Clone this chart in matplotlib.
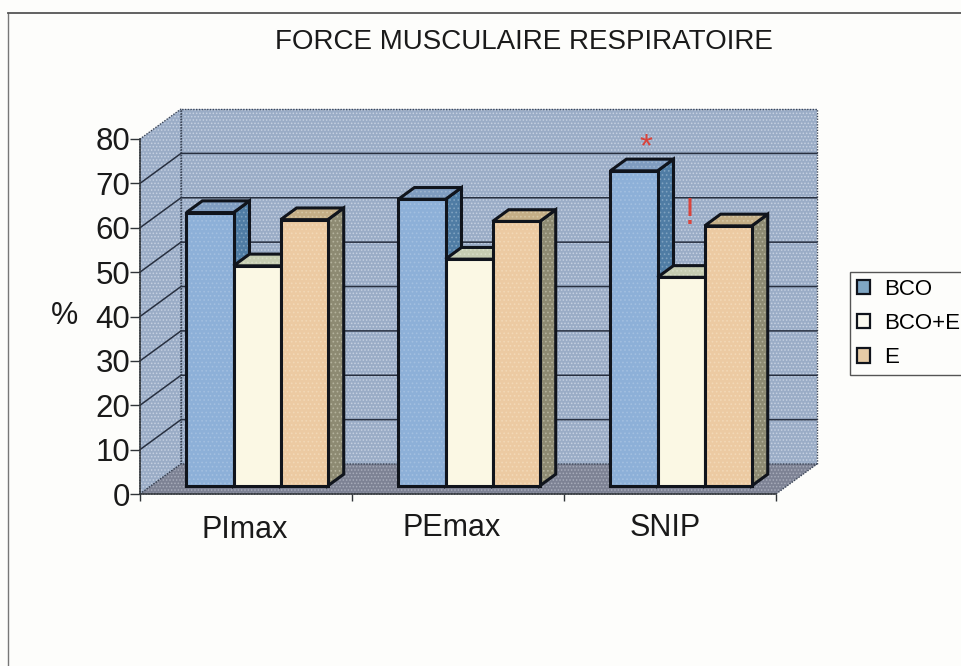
import matplotlib
matplotlib.use('Agg')
import matplotlib.pyplot as plt
from matplotlib.patches import Polygon, Patch

plt.rcParams['font.family'] = ['Liberation Sans', 'DejaVu Sans']
plt.rcParams['hatch.linewidth'] = 0.7

# donnees
categories = ['PImax', 'PEmax', 'SNIP']
series_names = ['BCO', 'BCO+E', 'E']
bco = [61.6, 64.6, 71]
bco_e = [49.6, 51.1, 47]
e = [60, 59.6, 58.6]
yticks = [0, 10, 20, 30, 40, 50, 60, 70, 80]

front_cols = ['#8db0d8', '#fbf8e4', '#eccaa2']
front_dots = ['#a2bfe0', '#fbf8e4', '#f2d8b6']
top_cols = ['#7f9cc0', '#c6cdb2', '#c4ae86']
top_dots = ['#9db4cf', '#d6dcc6', '#d6c6a4']
side_cols = ['#4f7ca4', '#9a9a80', '#8d8a72']
side_dots = ['#7fa2c0', '#b6b6a0', '#b4b29c']
legend_cols = ['#7fa6c4', '#fbfaf0', '#e6cba6']
line_col = '#10141c'

# decalage de la perspective, en unites de donnees
DX = 41 / 212
DY = 30 / 4.44
BAR_W = 1 / 4.5


def sk(x, y, d):
    # d = profondeur (0 devant, 1 fond)
    return (x + d * DX, y + d * DY)


def wall(ax, pts, col, hatch_col, z):
    ax.add_patch(Polygon(pts, closed=True, facecolor=col, edgecolor=hatch_col, hatch='.....',
                         lw=0, zorder=z, clip_on=False))
    ax.add_patch(Polygon(pts, closed=True, fill=False, edgecolor='#3c4658', lw=1, ls=(0, (1, 1)),
                         zorder=z + 0.1, clip_on=False))


def face(ax, pts, col, dots):
    ax.add_patch(Polygon(pts, closed=True, facecolor=col, edgecolor=dots, hatch='....',
                         lw=0, zorder=5, clip_on=False))
    ax.add_patch(Polygon(pts, closed=True, fill=False, edgecolor=line_col, lw=2.2,
                         joinstyle='miter', zorder=5, clip_on=False))


def bar3d(ax, x, h, i):
    d0, d1 = 0.27, 0.66
    w = BAR_W
    top = [sk(x, h, d0), sk(x + w, h, d0), sk(x + w, h, d1), sk(x, h, d1)]
    side = [sk(x + w, 0, d0), sk(x + w, h, d0), sk(x + w, h, d1), sk(x + w, 0, d1)]
    front = [sk(x, 0, d0), sk(x + w, 0, d0), sk(x + w, h, d0), sk(x, h, d0)]
    face(ax, side, side_cols[i], side_dots[i])
    face(ax, top, top_cols[i], top_dots[i])
    face(ax, front, front_cols[i], front_dots[i])


fig = plt.figure(figsize=(9.61, 6.66), dpi=100, facecolor='#fdfdfb')
ax = fig.add_axes([140 / 961, (666 - 494) / 666, 636 / 961, 355 / 666])
ax.set_xlim(0, 3)
ax.set_ylim(0, 80)
ax.patch.set_alpha(0)

# murs et sol
wall(ax, [sk(0, 0, 1), sk(3, 0, 1), sk(3, 80, 1), sk(0, 80, 1)], '#9aacc6', '#c6d1e2', 1)
wall(ax, [sk(0, 0, 0), sk(0, 0, 1), sk(0, 80, 1), sk(0, 80, 0)], '#9aacc6', '#c6d1e2', 1)
wall(ax, [sk(0, 0, 0), sk(3, 0, 0), sk(3, 0, 1), sk(0, 0, 1)], '#7d8294', '#a8acba', 1.5)

# grille
for v in yticks[1:-1]:
    ax.plot(*zip(sk(0, v, 0), sk(0, v, 1), sk(3, v, 1)), color='#283040', lw=1.1, zorder=2, clip_on=False)

# barres
for c in range(len(categories)):
    x0 = c + (1 - 3 * BAR_W) / 2
    for i, vals in enumerate([bco, bco_e, e]):
        bar3d(ax, x0 + i * BAR_W, vals[c], i)

# axes
for s in ['top', 'right']:
    ax.spines[s].set_visible(False)
for s in ['left', 'bottom']:
    ax.spines[s].set_color('#303438')
    ax.spines[s].set_linewidth(1.1)
    ax.spines[s].set_zorder(3)
ax.set_yticks(yticks)
ax.set_xticks([0, 1, 2, 3])
ax.set_xticklabels([])
ax.tick_params(axis='y', labelsize=22.5, length=7, width=1, color='#303438', pad=0, labelcolor='#1a1a1a')
ax.tick_params(axis='x', length=5, width=1, color='#303438')

# etiquettes des categories
label_x = [0.495, 1.47, 2.475]
label_y = [-8.2, -7.6, -7.6]
for name, lx, ly in zip(categories, label_x, label_y):
    ax.text(lx, ly, name, ha='center', va='center', fontsize=22, color='#1a1a1a', clip_on=False)

fig.text(65 / 961, 1 - 316 / 666, '%', ha='center', va='center', fontsize=22, color='#1a1a1a')
fig.text(524 / 961, 1 - 42 / 666, 'FORCE MUSCULAIRE RESPIRATOIRE', ha='center', va='center',
         fontsize=20, color='#1a1a1a')

# marques rouges
ax.text(2.387, 78, '*', color='#d9443c', fontsize=24, ha='center', va='center', clip_on=False, zorder=6)
ax.text(2.594, 63, '!', color='#d9443c', fontsize=26, ha='center', va='center', clip_on=False, zorder=6)

# legende
handles = [Patch(facecolor=c, edgecolor=line_col, lw=1.6) for c in legend_cols]
leg = fig.legend(handles, series_names, loc='upper left', bbox_to_anchor=(850 / 961, 1 - 272 / 666),
                 fontsize=16, frameon=True, fancybox=False, edgecolor='#555555', framealpha=1,
                 facecolor='#fdfdfb', handlelength=0.62, handleheight=0.62, handletextpad=0.6,
                 labelspacing=0.6, borderpad=0.3, borderaxespad=0)
leg.get_frame().set_linewidth(1)

# cadre exterieur
fig.add_artist(plt.Line2D([8 / 961, 8 / 961], [1 - 13 / 666, 0], color='#777777', lw=1))
fig.add_artist(plt.Line2D([8 / 961, 1], [1 - 13 / 666, 1 - 13 / 666], color='#555555', lw=1.3))

fig.savefig('out.png', dpi=100, facecolor=fig.get_facecolor())
